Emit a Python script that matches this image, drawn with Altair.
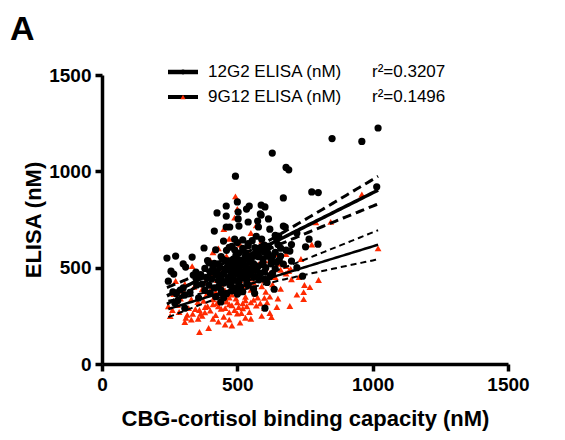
import altair as alt
import numpy as np
import pandas as pd

# ---- data: (CBG-cortisol binding capacity, ELISA) in nM ----
black_core = [
    (420, 593), (470, 606), (520, 644), (570, 663), (620, 700),
    (390, 537), (440, 558), (490, 593), (540, 614), (590, 648), (640, 668),
    (380, 496), (415, 522), (455, 537), (495, 565), (530, 578), (565, 604), (600, 617), (645, 649),
    (365, 464), (400, 477), (435, 502), (470, 515), (505, 541), (540, 554), (575, 579), (610, 592), (650, 620),
    (385, 450), (420, 463), (455, 488), (485, 499), (515, 521), (545, 532), (580, 557), (615, 570), (660, 601),
    (370, 415), (405, 440), (440, 454), (475, 479), (500, 487), (530, 509), (560, 520), (595, 545), (630, 558),
    (395, 409), (430, 434), (465, 448), (495, 470), (525, 481), (555, 503), (590, 516), (625, 542),
    (380, 382), (415, 395), (450, 420), (480, 431), (510, 453), (540, 464), (570, 486), (605, 500), (645, 528),
    (400, 368), (440, 384), (475, 409), (505, 420), (535, 442), (565, 453), (600, 478), (640, 494),
    (420, 349), (460, 365), (500, 393), (540, 409), (580, 437), (620, 453),
    (450, 345), (500, 363), (560, 390), (610, 423),
    (468, 495), (488, 513), (508, 505), (522, 531), (537, 493), (552, 547), (566, 512), (498, 531),
    (478, 462), (515, 472), (545, 485), (575, 503), (530, 560), (505, 575), (560, 565), (485, 545),
    (470, 535), (550, 475), (520, 445), (490, 435),
    (430, 520), (445, 545), (460, 590), (480, 610), (500, 630), (520, 600), (540, 625), (555, 640),
    (585, 600), (600, 580), (615, 610), (625, 520), (585, 470), (560, 450), (535, 420), (512, 400),
    (490, 395), (470, 420), (445, 430), (425, 480), (410, 500), (395, 525), (450, 470), (465, 505),
    (525, 455), (548, 540), (572, 560), (595, 525), (610, 560), (640, 580), (655, 540), (630, 470),
    (430, 400), (480, 380), (520, 375), (600, 440),
]
black_upper = [
    (588, 825), (602, 815), (544, 820), (534, 804), (459, 820), (425, 784), (503, 789), (585, 779),
    (615, 753), (540, 737), (500, 841), (459, 768), (503, 753), (459, 711), (472, 711), (506, 716),
    (415, 690), (575, 742), (588, 773), (578, 711), (677, 711), (653, 664), (670, 716), (449, 638),
    (490, 648), (377, 602), (493, 975),
]
black_left = [
    (240, 550), (272, 560), (333, 555), (309, 503), (300, 520), (255, 482), (265, 467), (347, 477),
    (337, 462), (347, 446), (289, 384), (262, 374), (269, 317), (306, 358), (357, 343), (245, 430),
    (280, 330), (306, 290), (442, 368), (439, 322), (507, 374),
    (275, 365), (300, 395), (325, 372), (350, 410),
]
black_right = [
    (1020, 1225), (960, 1155), (850, 1170), (629, 1095), (680, 1020), (690, 1008), (670, 862),
    (775, 893), (799, 890), (1015, 920), (798, 622), (765, 648), (752, 608), (694, 586), (680, 591),
    (700, 534), (670, 519), (741, 456), (720, 500), (636, 388), (602, 290), (564, 367), (660, 560),
    (700, 620), (720, 680),
]

red_core = [
    (400, 468), (450, 491), (500, 503), (550, 526), (600, 538),
    (380, 425), (425, 436), (470, 458), (515, 468), (560, 489), (605, 500), (650, 520),
    (370, 388), (405, 395), (440, 412), (475, 419), (510, 436), (545, 444), (580, 461), (620, 470), (660, 489),
    (385, 358), (420, 374), (455, 382), (490, 398), (525, 407), (560, 423), (600, 433), (640, 451),
    (375, 328), (410, 336), (445, 353), (480, 361), (515, 377), (550, 385), (590, 403), (630, 413),
    (390, 300), (425, 316), (460, 324), (495, 340), (530, 349), (565, 365), (605, 375),
    (400, 277), (440, 287), (480, 305), (520, 315), (560, 333), (600, 343),
    (420, 254), (470, 268), (520, 289), (570, 303),
    (450, 245), (500, 262), (545, 270), (600, 290), (380, 268), (360, 280),
    (430, 300), (455, 290), (470, 310), (505, 295), (535, 300), (550, 320), (585, 315), (610, 320),
    (490, 280), (515, 265), (440, 330), (470, 345), (500, 320), (530, 330), (575, 345), (620, 350),
    (410, 310), (455, 340),
    (430, 220), (470, 230), (510, 215), (550, 235), (590, 250), (410, 235), (455, 205), (530, 240),
    (620, 265), (480, 200),
]
red_inner = [
    (420, 520), (460, 560), (500, 540), (540, 580), (580, 520), (480, 480), (520, 500), (440, 470),
    (560, 470), (620, 540), (600, 600), (400, 540),
    (430, 600), (470, 650), (510, 620), (550, 680), (590, 640), (450, 700), (530, 560), (410, 580),
    (570, 720), (490, 760),
]
red_left = [
    (272, 431), (306, 415), (333, 508), (279, 306), (265, 363), (330, 337), (354, 322), (381, 296),
    (364, 260), (245, 300), (260, 280), (290, 340), (320, 290), (300, 380), (340, 400), (360, 166),
    (394, 187), (306, 218), (252, 249), (330, 230),
    (285, 270), (315, 255), (345, 285), (310, 240), (335, 260), (355, 235), (370, 250),
]
red_upper = [(493, 870), (500, 805)]
red_right = [
    (790, 735), (845, 738), (960, 880), (1020, 600), (775, 620), (680, 570), (680, 508), (690, 483),
    (646, 570), (800, 436), (748, 410), (768, 399), (745, 373), (745, 337), (694, 301), (646, 296),
    (626, 244), (728, 451), (697, 493), (700, 440), (660, 390), (720, 360), (650, 340), (680, 470),
    (735, 545),
]

series_names = ["12G2 ELISA (nM)", "9G12 ELISA (nM)"]
r2_labels = ["r\u00b2=0.3207", "r\u00b2=0.1496"]
axis_ticks = [0, 500, 1000, 1500]

FONT = "Liberation Sans"
RED = "#ff2a00"

black_pts = black_core + black_upper + black_left + black_right
red_pts = red_core + red_inner + red_left + red_upper + red_right

df_black = pd.DataFrame(black_pts, columns=["cbg", "elisa"])
df_red = pd.DataFrame(red_pts, columns=["cbg", "elisa"])


def fit_frame(df):
    """Least-squares line with its 95% confidence band, over the data's x range."""
    x = df["cbg"].to_numpy(float)
    y = df["elisa"].to_numpy(float)
    n = len(x)
    slope, intercept = np.polyfit(x, y, 1)
    resid = y - (intercept + slope * x)
    s = np.sqrt((resid ** 2).sum() / (n - 2))
    xm = x.mean()
    sxx = ((x - xm) ** 2).sum()
    xg = np.linspace(x.min(), x.max(), 80)
    yg = intercept + slope * xg
    se = s * np.sqrt(1.0 / n + (xg - xm) ** 2 / sxx)
    t = 1.97
    return pd.DataFrame({"cbg": xg, "fit": yg, "lo": yg - t * se, "hi": yg + t * se})


fit_black = fit_frame(df_black)
fit_red = fit_frame(df_red)

xscale = alt.Scale(domain=[0, 1500], nice=False, zero=True)
yscale = alt.Scale(domain=[0, 1500], nice=False, zero=True)

axis_common = dict(
    values=axis_ticks, grid=False, domainWidth=3.5, domainColor="black", tickWidth=3.5,
    tickSize=7, tickColor="black", labelFont=FONT, labelFontWeight="bold", labelFontSize=19,
    labelColor="black", titleFont=FONT, titleFontWeight="bold", titleFontSize=22,
    titleColor="black", format="d", labelPadding=4, labelFlush=False, labelOverlap=False,
)
xax = alt.Axis(title="CBG-cortisol binding capacity (nM)", titlePadding=14, **axis_common)
yax = alt.Axis(title="ELISA (nM)", titlePadding=3, **axis_common)

red_layer = alt.Chart(df_red).mark_point(
    shape="triangle-up", filled=True, color=RED, size=46, opacity=1
).encode(x=alt.X("cbg:Q", scale=xscale, axis=xax), y=alt.Y("elisa:Q", scale=yscale, axis=yax))

black_layer = alt.Chart(df_black).mark_circle(color="black", size=52, opacity=1).encode(
    x=alt.X("cbg:Q", scale=xscale), y=alt.Y("elisa:Q", scale=yscale)
)


def line_layers(fit, solid_w, dash_w, dash):
    base = alt.Chart(fit)
    solid = base.mark_line(color="black", strokeWidth=solid_w).encode(
        x=alt.X("cbg:Q", scale=xscale), y=alt.Y("fit:Q", scale=yscale))
    lo = base.mark_line(color="black", strokeWidth=dash_w, strokeDash=dash).encode(
        x=alt.X("cbg:Q", scale=xscale), y=alt.Y("lo:Q", scale=yscale))
    hi = base.mark_line(color="black", strokeWidth=dash_w, strokeDash=dash).encode(
        x=alt.X("cbg:Q", scale=xscale), y=alt.Y("hi:Q", scale=yscale))
    return [solid, lo, hi]


lines = line_layers(fit_red, 2.5, 2, [6, 4]) + line_layers(fit_black, 3.5, 3, [9, 5])

one = pd.DataFrame({"k": [0]})
legend = []
for i, (nm, r2) in enumerate(zip(series_names, r2_labels)):
    yy = -3 + 25 * i
    legend.append(alt.Chart(one).mark_rule(color="black", strokeWidth=4.5 if i == 0 else 4).encode(
        x=alt.value(66), x2=alt.value(96), y=alt.value(yy)))
    if i == 0:
        legend.append(alt.Chart(one).mark_circle(color="black", size=24, opacity=1).encode(
            x=alt.value(81), y=alt.value(yy)))
    else:
        legend.append(alt.Chart(one).mark_point(shape="triangle-up", filled=True, color=RED,
                                                size=26, opacity=1).encode(
            x=alt.value(81), y=alt.value(yy)))
    legend.append(alt.Chart(one).mark_text(align="left", baseline="middle", font=FONT,
                                           fontSize=17, color="black").encode(
        x=alt.value(106), y=alt.value(yy), text=alt.value(nm)))
    legend.append(alt.Chart(one).mark_text(align="left", baseline="middle", font=FONT,
                                           fontSize=17, color="black").encode(
        x=alt.value(270), y=alt.value(yy), text=alt.value(r2)))

panel = alt.Chart(one).mark_text(align="left", baseline="alphabetic", font=FONT,
                                 fontSize=34, fontWeight="bold", color="black").encode(
    x=alt.value(-92), y=alt.value(-35), text=alt.value("A"))

chart = alt.layer(red_layer, black_layer, *lines, *legend, panel).properties(
    width=406, height=289,
    autosize=alt.AutoSizeParams(type="none"),
    padding={"left": 102, "right": 57, "top": 75, "bottom": 76},
).configure_view(stroke=None)

chart.save("out.html", embed_options={"renderer": "svg", "actions": False})
